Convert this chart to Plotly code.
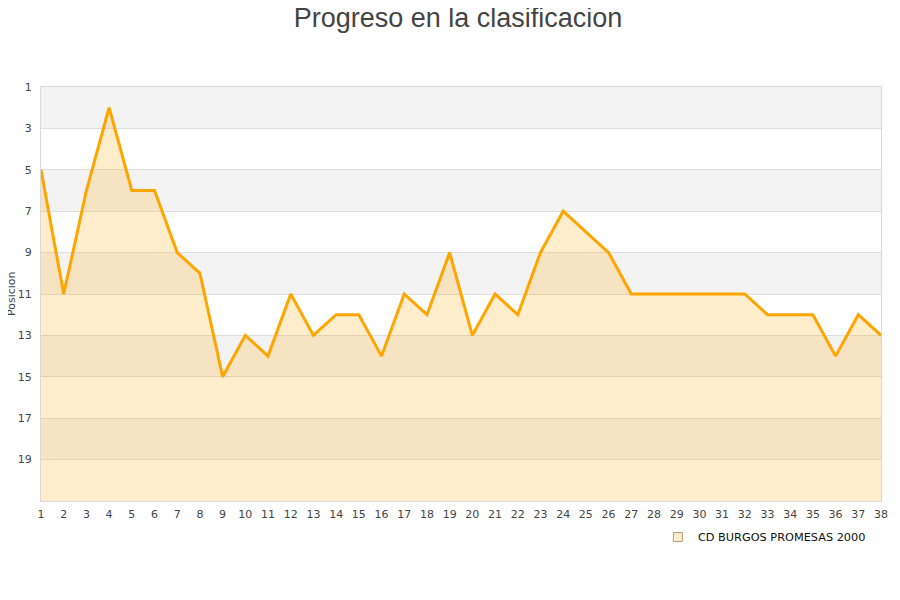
import plotly.graph_objects as go

# jornadas y posicion en la tabla
jornadas = list(range(1, 39))
posiciones = [5, 11, 6, 2, 6, 6, 9, 10, 15, 13,
              14, 11, 13, 12, 12, 14, 11, 12, 9, 13,
              11, 12, 9, 7, 8, 9, 11, 11, 11, 11,
              11, 11, 12, 12, 12, 14, 12, 13]
y_ticks = [1, 3, 5, 7, 9, 11, 13, 15, 17, 19]
bandas = [(1, 3), (5, 7), (9, 11), (13, 15), (17, 19)]
equipo = "CD BURGOS PROMESAS 2000"
fondo_y = 21

fig = go.Figure()

# linea base para rellenar hasta el fondo del eje (invertido)
fig.add_trace(go.Scatter(
    x=jornadas, y=[fondo_y] * len(jornadas),
    mode="lines", line=dict(width=0), showlegend=False, hoverinfo="skip"))

fig.add_trace(go.Scatter(
    x=jornadas, y=posiciones,
    mode="lines", fill="tonexty",
    fillcolor="rgba(255,165,0,0.2)",
    line=dict(color="#FFA500", width=3),
    name=equipo, showlegend=False))

# entrada de leyenda con cuadrado
fig.add_trace(go.Scatter(
    x=[None], y=[None], mode="markers", name=equipo,
    marker=dict(symbol="square", size=9, color="rgba(255,165,0,0.2)",
                line=dict(color="#b0a080", width=1))))

for a, b in bandas:
    fig.add_shape(type="rect", xref="paper", yref="y", x0=0, x1=1, y0=a, y1=b,
                  fillcolor="#F3F3F3", line=dict(width=0), layer="below")

# titulo del eje y como anotacion (automargin desactivado)
fig.add_annotation(text="Posicion", xref="paper", yref="paper",
                   x=-30 / 840, y=0.5, xanchor="center", yanchor="middle",
                   textangle=-90, showarrow=False,
                   font=dict(size=11, color="#444444"))

fig.update_layout(
    width=900, height=600,
    title=dict(text="Progreso en la clasificacion", x=0.5, xanchor="center",
               y=1, yanchor="top", yref="container", pad=dict(t=0),
               font=dict(family="Liberation Sans, Arial", size=27, color="#444444")),
    margin=dict(l=33, r=27, t=79, b=107, autoexpand=False),
    plot_bgcolor="white", paper_bgcolor="white",
    font=dict(family="DejaVu Sans", size=11, color="#444444"),
    legend=dict(orientation="h", x=0.988, xanchor="right", y=-0.052, yanchor="top",
                itemwidth=30, font=dict(size=11.3, color="#111111")),
)

fig.update_xaxes(range=[1, 38], tickmode="array", tickvals=jornadas,
                 showgrid=False, zeroline=False, ticks="", automargin=False,
                 ticklabelstandoff=3,
                 showline=True, linecolor="#d9d9d9", mirror=True,
                 tickfont=dict(size=11, color="#444444"))
fig.update_yaxes(range=[fondo_y, 1], tickmode="array", tickvals=y_ticks,
                 showgrid=True, gridcolor="#dedede", zeroline=False, ticks="",
                 automargin=False, ticklabelstandoff=6,
                 showline=True, linecolor="#d9d9d9", mirror=True,
                 tickfont=dict(size=11, color="#444444"))

fig.write_html("out.html")
